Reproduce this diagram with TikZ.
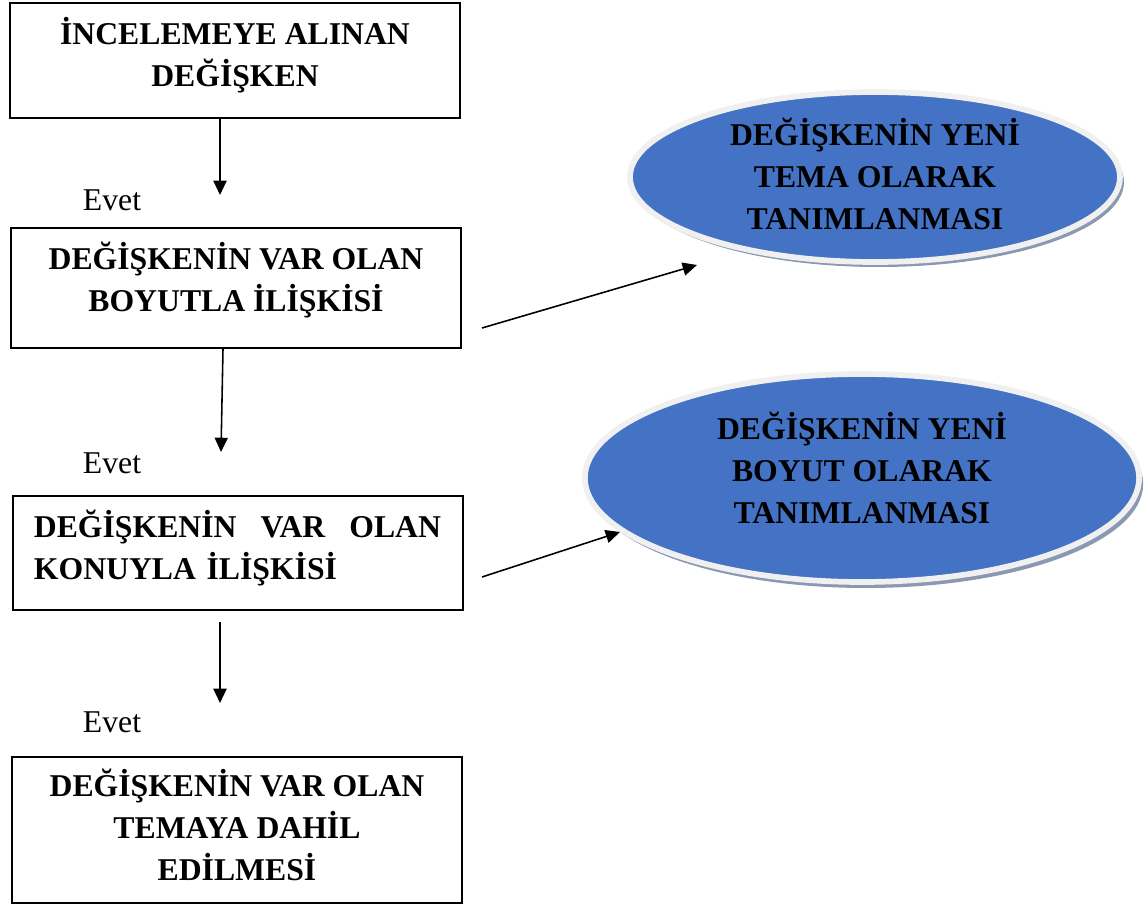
\documentclass[tikz,border=0pt]{standalone}
\usepackage{fontspec}
\setmainfont{Liberation Serif}
\usepackage{tikz}
\usetikzlibrary{
    arrows.meta,
    positioning,
    calc,
    shapes.geometric
}
\definecolor{ovalblue}{RGB}{68,114,196}
\definecolor{ovalshade}{RGB}{138,152,178}

\begin{document}
\begin{tikzpicture}[
  x=0.35pt,
  y=-0.35pt,
  every node/.style={align=center},
  stepbox/.style={
    draw,
    line width=0.7pt,
    font=\fontsize{11.1}{14.7}\selectfont\bfseries,
    minimum width=157.5pt,
    inner sep=0pt
  },
  oval/.style={
    ellipse,
    draw=gray!12,
    line width=2pt,
    fill=ovalblue,
    font=\fontsize{11.1}{14.7}\selectfont\bfseries,
    inner sep=0pt
  },
  ovalshadow/.style={
    ellipse,
    fill=ovalshade,
    inner sep=0pt
  },
  evetlabel/.style={font=\fontsize{11.1}{13}\selectfont},
  arrow/.style={-{Triangle[length=5pt,width=4.6pt]}, line width=0.55pt}
]
  \useasboundingbox (0,0) rectangle (1146,906);

  % Left column of steps.
  \node[stepbox, minimum height=40.3pt, text depth=5.8pt] (incele) at (235,60.5)
    {İNCELEMEYE ALINAN\\DEĞİŞKEN};
  \node[stepbox, minimum height=42pt, text depth=7.9pt] (boyutla) at (236,288)
    {DEĞİŞKENİN VAR OLAN\\BOYUTLA İLİŞKİSİ};
  \node[stepbox, minimum height=39.9pt, text depth=20.5pt, align=left, text width=142.5pt] (konuyla) at (237.5,553)
    {\makebox[142.5pt]{DEĞİŞKENİN\hfill VAR\hfill OLAN}\\KONUYLA İLİŞKİSİ};
  \node[stepbox, minimum height=51.1pt, text depth=3.5pt] (temaya) at (237,830)
    {DEĞİŞKENİN VAR OLAN\\TEMAYA DAHİL\\EDİLMESİ};

  \node[evetlabel] (evet1) at (112,200) {Evet};
  \node[evetlabel] (evet2) at (112,463) {Evet};
  \node[evetlabel] (evet3) at (112,722) {Evet};

  \coordinate (down1) at (220,195);
  \coordinate (down2) at (221,452);
  \coordinate (start3) at (220,622);
  \coordinate (down3) at (220,703);
  \draw[arrow] (incele.south -| down1) -- (down1);
  \draw[arrow] ($(boyutla.south)+(-13,0)$) -- (down2);
  \draw[arrow] (start3) -- (down3);

  % New theme / new dimension ovals.
  \node[ovalshadow, minimum width=171.5pt, minimum height=59.5pt] (temashadow) at (879,182) {};
  \node[oval, minimum width=171.5pt, minimum height=59.5pt, text depth=2pt] (yenitema) at (875,177)
    {DEĞİŞKENİN YENİ\\TEMA OLARAK\\TANIMLANMASI};
  \node[ovalshadow, minimum width=194pt, minimum height=72.8pt] (boyutshadow) at (866,484) {};
  \node[oval, minimum width=194pt, minimum height=72.8pt, text depth=7pt] (yeniboyut) at (862,478)
    {DEĞİŞKENİN YENİ\\BOYUT OLARAK\\TANIMLANMASI};

  \coordinate (out1) at (482,328);
  \coordinate (in1) at (697,265);
  \coordinate (out2) at (482,577);
  \coordinate (in2) at (620,532);
  \draw[arrow] (out1) -- (in1);
  \draw[arrow] (out2) -- (in2);
\end{tikzpicture}
\end{document}
